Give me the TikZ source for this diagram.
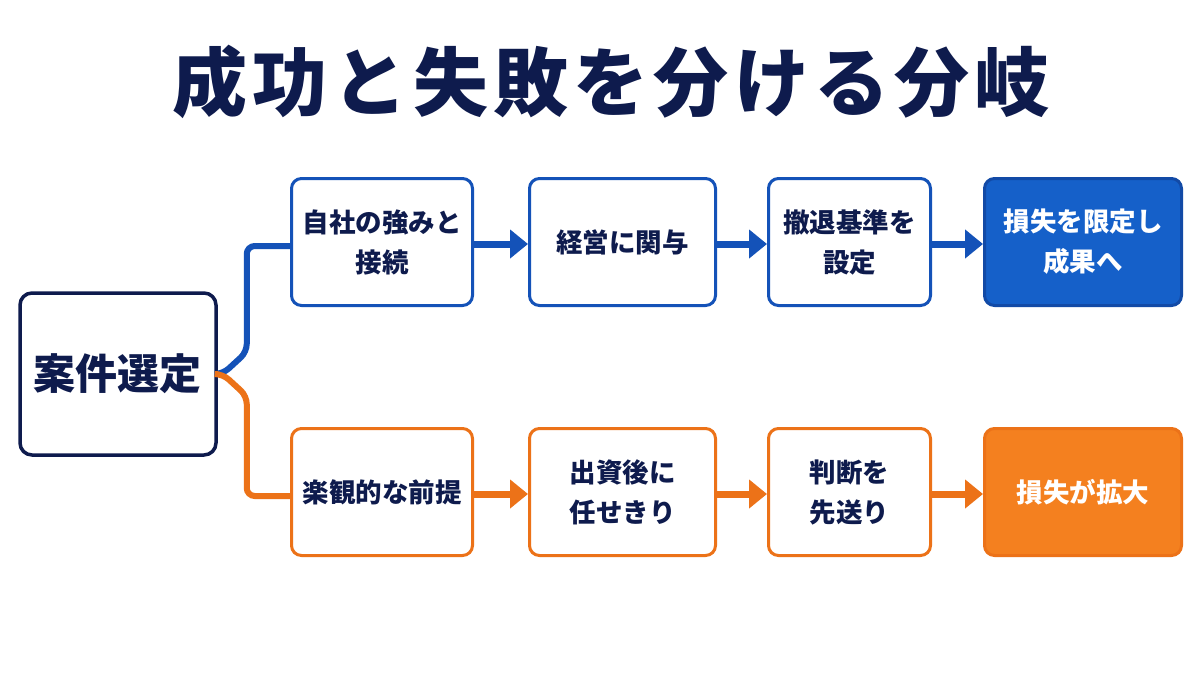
\documentclass[tikz,border=0pt]{standalone}
\usepackage{fontspec}
\setmainfont{Noto Sans CJK JP}
\usetikzlibrary{arrows.meta,positioning}
\definecolor{navy}{HTML}{0E1B4D}
\definecolor{ablue}{HTML}{1452B8}
\definecolor{fblue}{HTML}{1560C9}
\definecolor{aorange}{HTML}{EC7218}
\definecolor{forange}{HTML}{F4801F}
\tikzstyle{box}=[draw, line width=3pt, rounded corners=10pt, align=center, text=navy, font=\bfseries\fontsize{26.5}{40}\selectfont, minimum height=127pt, inner sep=0pt]
\tikzstyle{up}=[box, draw=ablue]
\tikzstyle{down}=[box, draw=aorange]
\tikzstyle{flow}=[line width=7pt, -{Triangle[length=18pt,width=28pt]}]
\tikzstyle{branch}=[line width=6pt, rounded corners=8pt]

\begin{document}
\begin{tikzpicture}
 [x=1pt, y=-1pt, node distance=50pt]
 \useasboundingbox[fill=white] (0,0) rectangle (1200,675);
 \node[text=navy, font=\bfseries\fontsize{75}{80}\selectfont\addfontfeature{LetterSpace=7}] (title) at (611,82) {成功と失敗を分ける分岐};
 \node[box, draw=navy, line width=3.5pt, rounded corners=12pt, minimum width=196pt, minimum height=162pt, font=\bfseries\fontsize{42}{48}\selectfont] (sel) at (118,374) {案件選定};
 % upper row
 \node[up, minimum width=181pt, anchor=west] (a1) at (290,242) {自社の強みと\\接続};
 \node[up, minimum width=186pt] (a2) [right=54pt of a1] {経営に関与};
 \node[up, minimum width=162pt] (a3) [right=50pt of a2] {撤退基準を\\設定};
 \node[up, minimum width=197pt, fill=fblue, draw=ablue!90!black, text=white] (a4) [right=51pt of a3] {損失を限定し\\成果へ};
 % lower row
 \node[down, minimum width=181pt] (b1) [below=120pt of a1] {楽観的な前提};
 \node[down, minimum width=186pt] (b2) [right=54pt of b1] {出資後に\\任せきり};
 \node[down, minimum width=162pt] (b3) [right=50pt of b2] {判断を\\先送り};
 \node[down, minimum width=197pt, fill=forange, draw=aorange, text=white] (b4) [right=51pt of b3] {損失が拡大};
 \draw[branch, ablue] (sel.east) -- ++(5,0) -- ++(24,-22) |- ([yshift=-4pt]a1.west);
 \draw[branch, aorange] (sel.east) -- ++(5,0) -- ++(24,22) |- ([yshift=-4pt]b1.west);
 \path[flow, color=ablue]
   ([yshift=-2pt]a1.east) edge ([yshift=-2pt]a2.west)
   ([yshift=-2pt]a2.east) edge ([yshift=-2pt]a3.west)
   ([yshift=-2pt]a3.east) edge ([yshift=-2pt]a4.west);
 \path[flow, color=aorange]
   ([yshift=-2pt]b1.east) edge ([yshift=-2pt]b2.west)
   ([yshift=-2pt]b2.east) edge ([yshift=-2pt]b3.west)
   ([yshift=-2pt]b3.east) edge ([yshift=-2pt]b4.west);
\end{tikzpicture}
\end{document}
